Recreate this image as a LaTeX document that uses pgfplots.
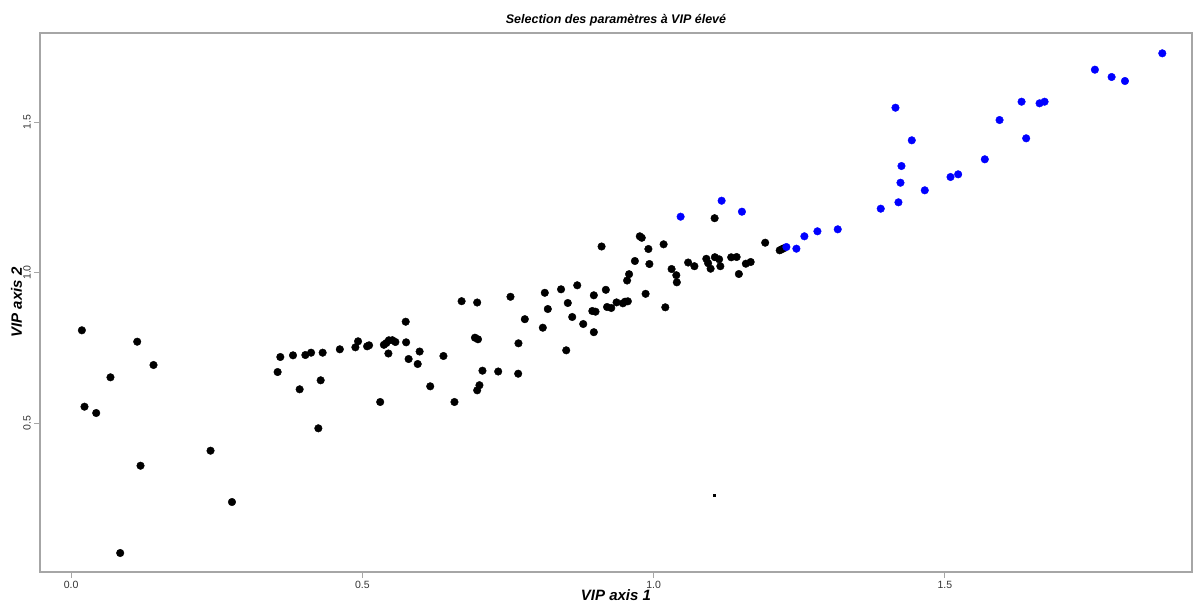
\documentclass[border=0pt]{standalone}
\usepackage{fontspec}
\setmainfont{Liberation Sans}
\setsansfont{Liberation Sans}
\usepackage{pgfplots}
\pgfplotsset{compat=1.18}
\begin{document}
\begin{tikzpicture}
\path[use as bounding box] (-40pt,-31pt) rectangle (1155pt,572pt);
\begin{axis}[
  at={(0pt,0pt)}, anchor=south west,
  scale only axis, width=1152pt, height=539pt,
  xmin=-0.0535, xmax=1.9244, ymin=0.005, ymax=1.7957,
  axis line style={draw=black!35, line width=1.2pt},
  tick style={draw=black!35, line width=1pt},
  tick align=outside, major tick length=6pt,
  xtick={0,0.5,1,1.5}, xticklabels={0.0,0.5,1.0,1.5},
  ytick={0.5,1,1.5}, yticklabels={0.5,1.0,1.5},
  xtick pos=bottom, ytick pos=left,
  ticklabel style={font=\fontsize{10.5}{12}\selectfont, text=black!80},
  xticklabel style={anchor=north, inner sep=0pt, yshift=-3pt},
  yticklabel style={xshift=-3pt, rotate=90, anchor=south, inner sep=0pt},
  xlabel={VIP axis 1}, ylabel={VIP axis 2},
  label style={font=\fontsize{15}{17}\selectfont\bfseries\itshape},
  xlabel style={at={(axis description cs:0.5,-0.042)}, anchor=center},
  ylabel style={at={(axis description cs:-0.0205,0.5)}, anchor=center},
  title={Selection des paramètres à VIP élevé},
  title style={at={(axis description cs:0.5,1.013)}, anchor=center, font=\fontsize{12.5}{14}\selectfont\bfseries\itshape},
]
\addplot[only marks, mark=*, mark size=3.8pt, black] table {
x y
0.0184 0.8080
0.1134 0.7701
0.1414 0.6927
0.0675 0.6518
0.0229 0.5542
0.0430 0.5332
0.1191 0.3581
0.2393 0.4080
0.2761 0.2375
0.0842 0.0681
0.3545 0.6694
0.3591 0.7193
0.3809 0.7249
0.4021 0.7259
0.4119 0.7336
0.4318 0.7336
0.3923 0.6120
0.4284 0.6419
0.4244 0.4824
0.4613 0.7449
0.4880 0.7515
0.4926 0.7714
0.5081 0.7548
0.5115 0.7581
0.5369 0.7598
0.5412 0.7658
0.5455 0.7748
0.5515 0.7751
0.5567 0.7691
0.5447 0.7309
0.5744 0.8365
0.5751 0.7681
0.5794 0.7126
0.5983 0.7375
0.5950 0.6960
0.6392 0.7226
0.6165 0.6219
0.5306 0.5698
0.6581 0.5698
0.6704 0.9047
0.6971 0.9003
0.6933 0.7834
0.6985 0.7781
0.7062 0.6738
0.7010 0.6256
0.6971 0.6086
0.7332 0.6711
0.7680 0.7648
0.7675 0.6638
0.7543 0.9193
0.7789 0.8449
0.8132 0.9326
0.8411 0.9442
0.8689 0.9575
0.8184 0.8787
0.8098 0.8166
0.8603 0.8522
0.8527 0.8987
0.8792 0.8289
0.8974 0.9243
0.9180 0.9425
0.8948 0.8721
0.9003 0.8698
0.8974 0.8017
0.8500 0.7415
0.9201 0.8854
0.9273 0.8821
0.9364 0.9007
0.9473 0.8977
0.9510 0.9030
0.9558 0.9043
0.9545 0.9734
0.9579 0.9944
0.9107 1.0864
0.9763 1.1203
0.9797 1.1153
1.0172 1.0937
0.9911 1.0781
0.9679 1.0382
0.9928 1.0282
0.9863 0.9292
1.0201 0.8844
1.0309 1.0116
1.0390 0.9910
1.0399 0.9674
1.0593 1.0332
1.0701 1.0209
1.0905 1.0455
1.0936 1.0309
1.0979 1.0126
1.1052 1.0508
1.1125 1.0439
1.1146 1.0209
1.1332 1.0505
1.1426 1.0515
1.1464 0.9950
1.1584 1.0292
1.1667 1.0349
1.1916 1.0990
1.2165 1.0738
1.2199 1.0771
1.2234 1.0804
1.1048 1.1804
};
\addplot[only marks, mark=*, mark size=3.8pt, blue, mark options={fill=blue, draw=blue}] table {
x y
1.0464 1.1854
1.1168 1.2385
1.1517 1.2020
1.2280 1.0847
1.2452 1.0791
1.2589 1.1203
1.2813 1.1369
1.3162 1.1435
1.3900 1.2120
1.4204 1.2332
1.4239 1.2983
1.4256 1.3538
1.4153 1.5475
1.4433 1.4392
1.4656 1.2731
1.5098 1.3173
1.5229 1.3262
1.5687 1.3761
1.5940 1.5066
1.6318 1.5674
1.6397 1.4458
1.6627 1.5621
1.6713 1.5674
1.7577 1.6738
1.7864 1.6495
1.8093 1.6362
1.8734 1.7282
};
\addplot[only marks, mark=square*, mark size=1pt, black] coordinates {(1.1043,0.2618)};
\end{axis}
\end{tikzpicture}
\end{document}
